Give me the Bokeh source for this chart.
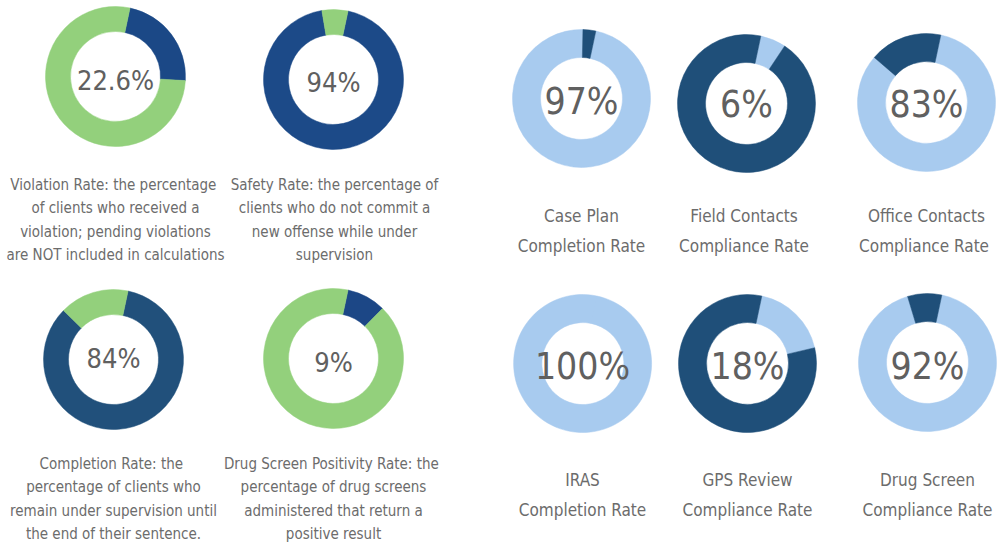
import numpy as np
from bokeh.plotting import figure
from bokeh.models import ColumnDataSource, Range1d
from bokeh.core.properties import value
from bokeh.embed import file_html
from bokeh.resources import INLINE

# ---------------- data ----------------
left_values = [22.6, 94, 84, 9]
left_labels = ["22.6%", "94%", "84%", "9%"]
left_captions = [
    ["Violation  Rate: the percentage", "of clients who received a",
     "violation; pending violations", "are NOT included in calculations"],
    ["Safety Rate: the percentage of", "clients who do not commit a",
     "new offense while under", "supervision"],
    ["Completion  Rate: the", "percentage of clients who",
     "remain under supervision until", "the end of their sentence."],
    ["Drug Screen Positivity  Rate: the", "percentage of drug screens",
     "administered that return a", "positive result"],
]

right_values = [97, 6, 83, 100, 18, 92]
right_labels = ["97%", "6%", "83%", "100%", "18%", "92%"]
right_captions = [
    ["Case Plan", "Completion Rate"],
    ["Field  Contacts", "Compliance  Rate"],
    ["Office Contacts", "Compliance  Rate"],
    ["IRAS", "Completion Rate"],
    ["GPS Review", "Compliance Rate"],
    ["Drug Screen", "Compliance Rate"],
]

# ---------------- layout / style ----------------
W, H = 997, 548
left_centers = [(115, 76), (333, 79), (113, 359), (333, 358)]
left_label_y = [80, 82, 358, 362]
left_caption_x = [115, 334, 113, 333]
left_caption_y0 = [184, 184, 463, 463]
left_line_gap = 23.5
left_r = (45, 70)
left_value_colors = ["#1b4886", "#1c4a88", "#21507b", "#1c4786"]
left_rest_color = "#93d07c"

right_centers = [(581, 98), (746, 103), (926, 102), (582, 363), (747, 363), (927, 362)]
right_label_y = [101, 104, 104, 366, 366, 366]
right_caption_y0 = [215, 215, 215, 479, 479, 479]
right_line_gap = 30
right_r = (41, 69)
right_value_color = "#a8cbef"
right_rest_color = "#1f4f79"

START = 12.0  # degrees clockwise from 12 o'clock where the value segment begins

FONT = "DejaVu Sans Condensed"


def segs(centers, vals, radii, vcolors, rcolor):
    rows = dict(x=[], y=[], ir=[], orr=[], sa=[], ea=[], c=[])
    for (cx, cy), v, vc in zip(centers, vals, vcolors):
        span = min(v, 99.999) * 3.6
        parts = [(START, START + span, vc)]
        if v < 100:
            parts.append((START + span, START + 360.0, rcolor))
        for a0, a1, col in parts:
            rows["x"].append(cx)
            rows["y"].append(H - cy)
            rows["ir"].append(radii[0])
            rows["orr"].append(radii[1])
            rows["sa"].append(np.deg2rad(90 - a0))
            rows["ea"].append(np.deg2rad(90 - a1))
            rows["c"].append(col)
    return ColumnDataSource(rows)


p = figure(width=W, height=H, x_range=Range1d(0, W), y_range=Range1d(0, H),
           output_backend="svg", toolbar_location=None,
           x_axis_location=None, y_axis_location=None, min_border=0)
p.grid.visible = False
p.outline_line_color = None
p.background_fill_color = "white"
p.border_fill_color = "white"

for src in (segs(left_centers, left_values, left_r, left_value_colors, left_rest_color),
            segs(right_centers, right_values, right_r, [right_value_color] * 6, right_rest_color)):
    p.annular_wedge(x="x", y="y", inner_radius="ir", outer_radius="orr",
                    start_angle="sa", end_angle="ea",
                    direction="clock", fill_color="c", line_color="c", line_width=0.5,
                    source=src)

# center percentages
p.text(x=[c[0] for c in left_centers], y=[H - y for y in left_label_y], text=left_labels,
       text_font=value(FONT), text_font_size="27px", text_color="#606060",
       text_align="center", text_baseline="middle")
p.text(x=[c[0] for c in right_centers], y=[H - y for y in right_label_y], text=right_labels,
       text_font=value(FONT), text_font_size="37px", text_color="#606060",
       text_align="center", text_baseline="middle")

# captions
cx, cy, ct = [], [], []
for x0, y0, lines in zip(left_caption_x, left_caption_y0, left_captions):
    for i, t in enumerate(lines):
        cx.append(x0); cy.append(H - (y0 + i * left_line_gap)); ct.append(t)
p.text(x=cx, y=cy, text=ct, text_font=value(FONT), text_font_size="15px",
       text_color="#6c6c6c", text_align="center", text_baseline="middle")

cx, cy, ct = [], [], []
for (x0, _), y0, lines in zip(right_centers, right_caption_y0, right_captions):
    for i, t in enumerate(lines):
        cx.append(x0); cy.append(H - (y0 + i * right_line_gap)); ct.append(t)
p.text(x=cx, y=cy, text=ct, text_font=value(FONT), text_font_size="17px",
       text_color="#6c6c6c", text_align="center", text_baseline="middle")

open("out.html", "w").write(file_html(p, INLINE))
